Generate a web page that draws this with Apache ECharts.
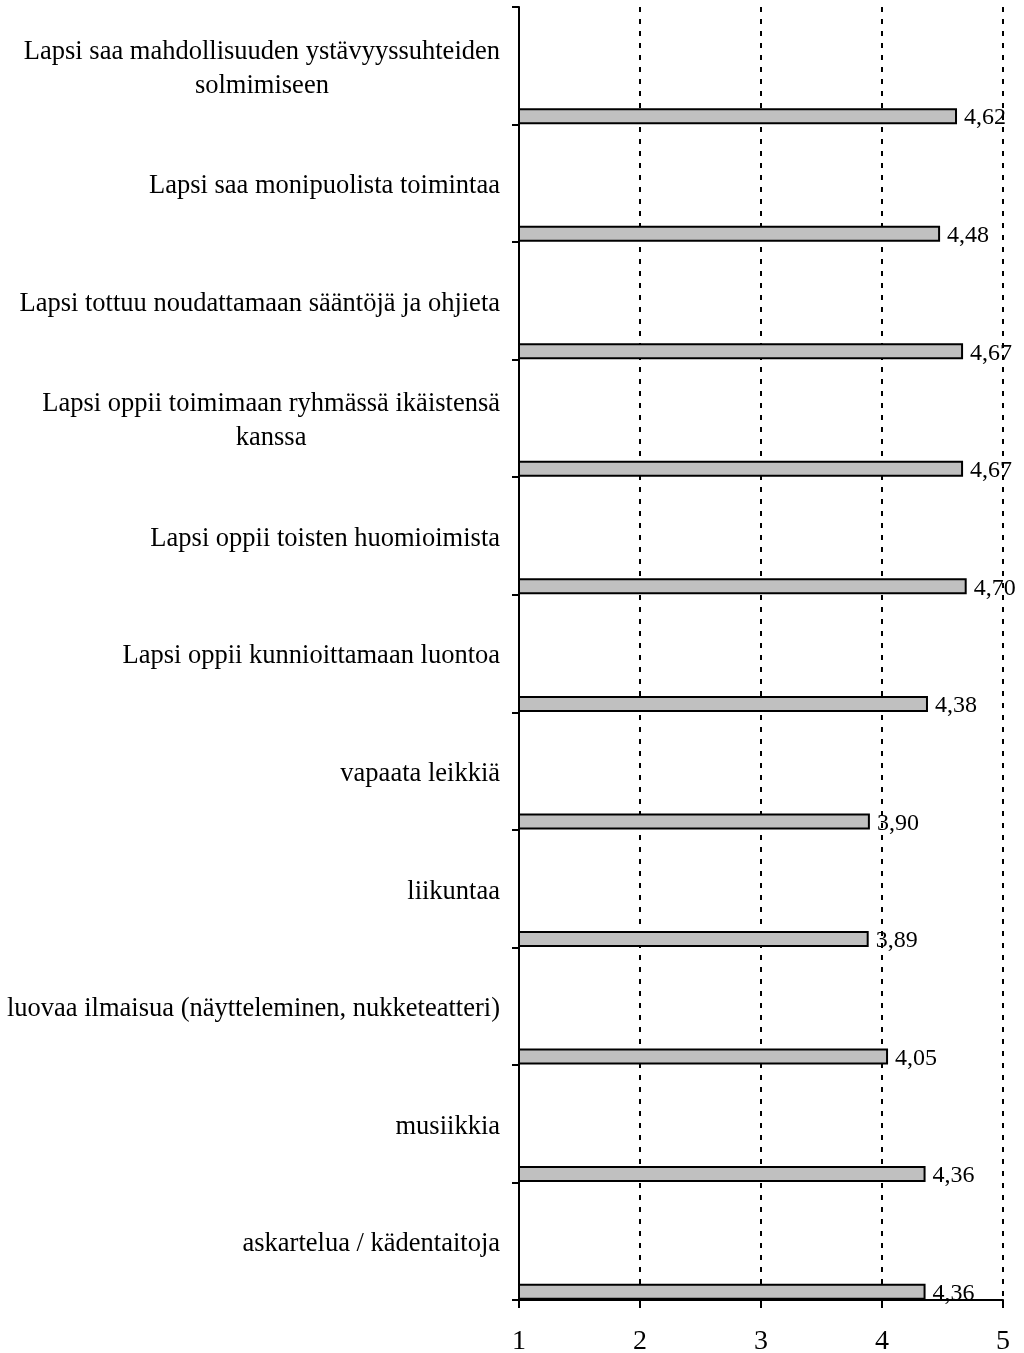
<!DOCTYPE html>
<html>
<head>
<meta charset="utf-8">
<script src="https://cdn.jsdelivr.net/npm/echarts@6/dist/echarts.min.js"></script>
<style>
  html, body { margin: 0; padding: 0; background: #fff; }
  #chart { width: 1024px; height: 1353px; }
</style>
</head>
<body>
<div id="chart"></div>
<script>
const categories = [
  "Lapsi saa mahdollisuuden ystävyyssuhteiden\nsolmimiseen",
  "Lapsi saa monipuolista toimintaa",
  "Lapsi tottuu noudattamaan sääntöjä ja ohjieta",
  "Lapsi oppii toimimaan ryhmässä ikäistensä\nkanssa",
  "Lapsi oppii toisten huomioimista",
  "Lapsi oppii kunnioittamaan luontoa",
  "vapaata leikkiä",
  "liikuntaa",
  "luovaa ilmaisua (näytteleminen, nukketeatteri)",
  "musiikkia",
  "askartelua / kädentaitoja"
];
const values = [4.62, 4.48, 4.67, 4.67, 4.70, 4.38, 3.90, 3.89, 4.05, 4.36, 4.36];
const xTicks = { min: 1, max: 5, interval: 1 };

const FONT = "'Liberation Serif', 'Times New Roman', serif";
const chart = echarts.init(document.getElementById('chart'), null, { renderer: 'canvas' });

const option = {
  backgroundColor: '#ffffff',
  animation: false,
  grid: { left: 519, right: 21, top: 7, bottom: 53, containLabel: false, outerBoundsMode: 'none' },
  xAxis: {
    type: 'value',
    min: xTicks.min,
    max: xTicks.max,
    interval: xTicks.interval,
    position: 'bottom',
    axisLine: { show: true, lineStyle: { color: '#000', width: 2 } },
    axisTick: { show: true, length: 8, lineStyle: { color: '#000', width: 2 } },
    axisLabel: {
      color: '#000', fontFamily: FONT, fontSize: 28, margin: 28,
      formatter: v => String(v)
    },
    splitLine: { show: true, lineStyle: { color: '#000', width: 2, type: [5, 7] } }
  },
  yAxis: {
    type: 'category',
    inverse: true,
    data: categories,
    axisLine: { show: true, lineStyle: { color: '#000', width: 2 } },
    axisTick: { show: true, length: 7, lineStyle: { color: '#000', width: 2 } },
    splitLine: { show: false },
    axisLabel: {
      margin: 19,
      align: 'right',
      padding: [6, 0, 0, 0],
      formatter: function (v) {
        return v.split('\n').map(l => '{c|' + l + '}').join('\n');
      },
      rich: {
        c: { fontFamily: FONT, fontSize: 26.5, lineHeight: 34, color: '#000', align: 'center' }
      }
    }
  },
  series: [
    {
      type: 'bar',
      name: 'spacer',
      silent: true,
      data: categories.map(() => '-'),
      barWidth: 16,
      barGap: '530%'
    },
    {
      type: 'bar',
      name: 'keskiarvo',
      data: values,
      barWidth: 16,
      barGap: '530%',
      itemStyle: { color: '#c0c0c0', borderColor: '#000', borderWidth: 2 },
      label: {
        show: true,
        position: 'right',
        distance: 7,
        offset: [0, 2],
        color: '#000',
        fontFamily: FONT,
        fontSize: 24,
        formatter: p => p.value.toFixed(2).replace('.', ',')
      }
    }
  ]
};
chart.setOption(option);
</script>
</body>
</html>
